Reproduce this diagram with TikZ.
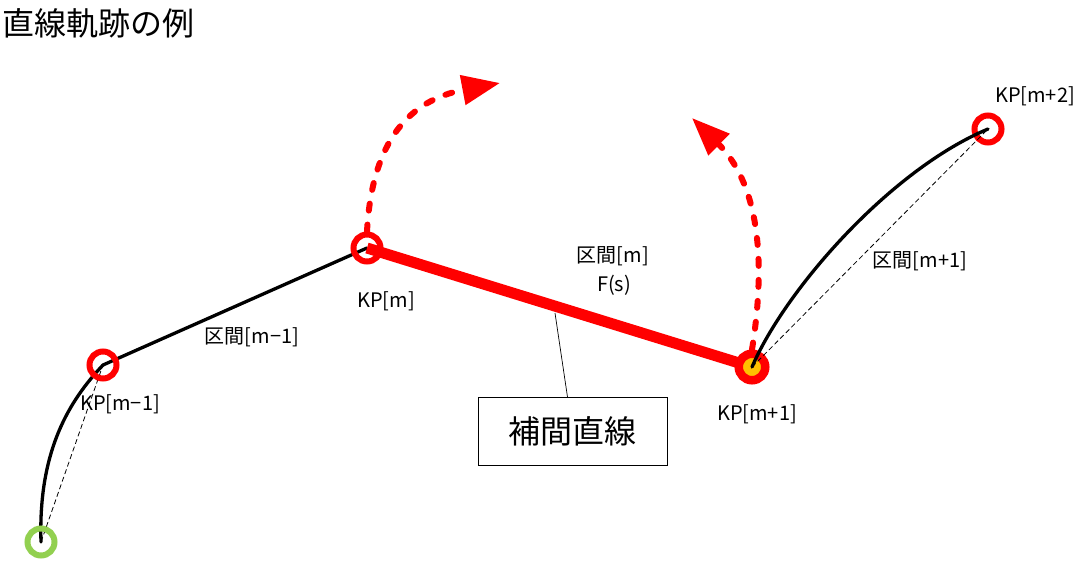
\documentclass[tikz,border=0pt]{standalone}
\usepackage{fontspec}
\setmainfont{Noto Sans CJK JP}
\usetikzlibrary{arrows.meta}
\definecolor{kpred}{RGB}{255,0,0}
\definecolor{kpgreen}{RGB}{146,208,80}
\definecolor{kporange}{RGB}{255,192,0}
\begin{document}
\begin{tikzpicture}[x=1pt,y=-1pt,
  kp/.style={circle,draw=kpred,line width=6pt,minimum size=27pt,inner sep=0pt},
  kpstart/.style={kp,draw=kpgreen},
  kpcur/.style={circle,draw=kpred,fill=kporange,line width=8.5pt,minimum size=26.5pt,inner sep=0pt},
  track/.style={draw=black,line width=3.3pt,line cap=round},
  chord/.style={draw=black,line width=0.8pt,dash pattern=on 5pt off 3pt},
  interp/.style={draw=kpred,line width=11pt},
  turn/.style={draw=kpred,line width=6pt,dash pattern=on 7pt off 14pt,line cap=round,
    -{Triangle[length=38pt,width=29pt]}},
  lbl/.style={font=\fontsize{20}{22}\selectfont,inner sep=0pt},
  callout/.style={draw=black,line width=0.9pt,minimum width=189pt,minimum height=68pt,
    font=\fontsize{32}{34}\selectfont,inner sep=0pt},
  lead/.style={draw=black,line width=0.7pt}]
\useasboundingbox (0,0) rectangle (1082,560);

% title
\node[anchor=west,font=\fontsize{32}{34}\selectfont,inner sep=0pt] (title) at (2,23) {直線軌跡の例};

% key points (positions)
\coordinate (p0) at (41,542);
\coordinate (p1) at (103,365);
\coordinate (p2) at (367,248);
\coordinate (p3) at (752,367);
\coordinate (p4) at (988,129);

% chords
\draw[chord] (p0) -- (p1);

% tracks
\draw[track] (p0) .. controls (38,450) and (70,400) .. (p1);
\draw[track] (p1) -- (p2);
\draw[interp] (p2) -- (p3);

% circles
\node[kpstart] (kp0) at (p0) {};
\node[kp] (kp1) at (p1) {};
\node[kp] (kp2) at (p2) {};
\node[kpcur] (kp3) at (p3) {};
\node[kp] (kp4) at (p4) {};

% next section
\draw[chord] (kp3.center) -- (kp4.center);
\draw[track] (kp3.center) .. controls (785,290) and (890,170) .. (kp4.center);

% turning arrows
\draw[turn] (kp2.north) .. controls (372,140) and (410,100) .. (500,83);
\draw[turn] (kp3.north) .. controls (768,250) and (755,180) .. (692,118);

% labels
\node[lbl] (l1) at (120,404) {KP[m−1]};
\node[lbl] (s1) at (252,337) {区間[m−1]};
\node[lbl] (l2) at (386,301) {KP[m]};
\node[lbl] (s2) at (613,256) {区間[m]};
\node[lbl] (fs) at (614,285) {F(s)};
\node[lbl] (l3) at (757,414) {KP[m+1]};
\node[lbl] (s3) at (920,261) {区間[m+1]};
\node[lbl] (l4) at (1035,96) {KP[m+2]};

% callout
\node[callout] (box) at (572.5,431.5) {補間直線};
\coordinate (leadend) at (555,313);
\draw[lead] ([xshift=-5pt]box.north) -- (leadend);
\end{tikzpicture}
\end{document}
